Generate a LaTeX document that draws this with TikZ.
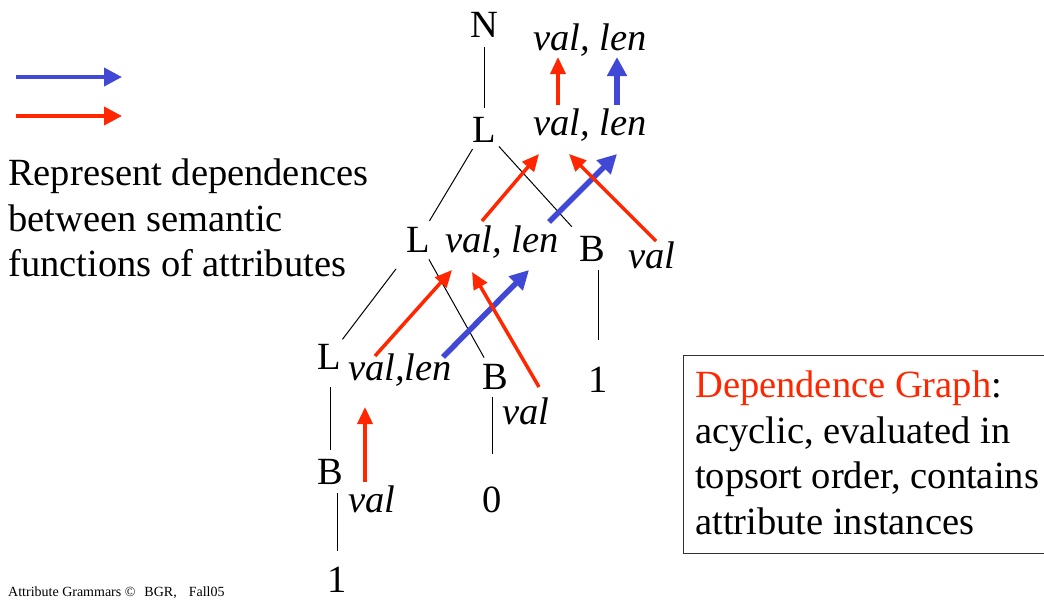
\documentclass[tikz,border=0pt]{standalone}
\usepackage{fontspec}
\setmainfont{Liberation Serif}
\usetikzlibrary{positioning, arrows.meta, calc}
\definecolor{depred}{RGB}{255,38,0}
\definecolor{depblue}{RGB}{66,72,214}
\newcommand{\bigtext}{\fontsize{38.5}{45.5}\selectfont}

\begin{document}
\begin{tikzpicture}[x=1pt, y=-1pt]
\tikzset{
    every node/.style={inner sep=0pt},
    sym/.style={circle, minimum size=44pt, font=\bigtext},
    attr/.style={anchor=base west, font=\bigtext\itshape},
    edge/.style={draw, line width=1pt},
    redarr/.style={draw=depred, line width=3.5pt, -{Triangle[length=17pt, width=15pt]}},
    bluearr/.style={draw=depblue, line width=5.5pt, -{Triangle[length=19pt, width=19pt]}},
    keyarr/.style={line width=4pt, -{Triangle[length=18pt, width=18pt]}},
    note/.style={anchor=north west, align=left, font=\bigtext}
}
\useasboundingbox (0,0) rectangle (1044,600);

% legend
\coordinate (kb0) at (16,77);  \coordinate (kb1) at (122,77);
\coordinate (kr0) at (16,116); \coordinate (kr1) at (122,116);
\draw[keyarr, depblue] (kb0) -- (kb1);
\draw[keyarr, depred] (kr0) -- (kr1);
\node[note] (expl) at (8,159) {Represent dependences\\between semantic\\functions of attributes};

% parse tree
\node[sym] (N) at (484,25) {N};
\node[sym] (L1) at (484,130) {L};
\node[sym] (L2) at (418,240) {L};
\node[sym] (B2) at (592,249) {B};
\node[sym] (L3) at (329,357) {L};
\node[sym] (B3) at (495,377) {B};
\node[sym] (one1) at (598,380) {1};
\node[sym] (B4) at (330,472) {B};
\node[sym] (zero) at (492,500) {0};
\node[sym] (one2) at (337,580) {1};

\draw[edge] (N) -- (L1);
\draw[edge] (L1) -- (L2);
\draw[edge, shorten >=8pt] (L1) -- (B2);
\draw[edge, shorten <=14pt] (L2) -- (L3);
\draw[edge] (L2) -- (B3);
\draw[edge, shorten <=21pt, shorten >=18pt] (one1 |- B2) -- (one1);
\draw[edge, shorten <=30pt] (B4 |- L3) -- (B4);
\draw[edge, shorten <=20pt, shorten >=24pt] (zero |- B3) -- (zero);
\draw[edge, shorten <=21pt, shorten >=7pt] (one2 |- B4) -- (one2);

% attributes
\node[attr] (atN) at (533,50) {val, len};
\node[attr] (atL1) at (533,135) {val, len};
\node[attr] (atL2) at (445,252) {val, len};
\node[attr] (atB2) at (628,268) {val};
\node[attr] (atL3) at (348,380) {val,len};
\node[attr] (atB3) at (502,424) {val};
\node[attr] (atB4) at (348,512) {val};

% dependences
\coordinate (d1a) at (558,105); \coordinate (d1b) at (558,57);
\coordinate (d2a) at (617,105); \coordinate (d2b) at (617,57);
\coordinate (d3a) at (482,221); \coordinate (d3b) at (539,154);
\coordinate (d4a) at (549,222); \coordinate (d4b) at (617,154);
\coordinate (d5a) at (656,241); \coordinate (d5b) at (569,154);
\coordinate (d6a) at (375,356); \coordinate (d6b) at (452,270);
\coordinate (d7a) at (443,357); \coordinate (d7b) at (529,270);
\coordinate (d8a) at (539,387); \coordinate (d8b) at (472,272);
\coordinate (d9a) at (365,482); \coordinate (d9b) at (365,407);
\draw[redarr] (d1a) -- (d1b);
\draw[bluearr] (d2a) -- (d2b);
\draw[redarr] (d3a) -- (d3b);
\draw[bluearr] (d4a) -- (d4b);
\draw[redarr] (d5a) -- (d5b);
\draw[redarr] (d6a) -- (d6b);
\draw[bluearr] (d7a) -- (d7b);
\draw[redarr] (d8a) -- (d8b);
\draw[redarr] (d9a) -- (d9b);

% dependence graph note
\node[draw=black!80, line width=1.2pt, anchor=north west, minimum width=365pt, minimum height=198pt] (dgbox) at (683,355) {};
\node[note] (dgtext) at (695,371) {\textcolor{depred}{Dependence Graph}:\\acyclic, evaluated in\\topsort order, contains\\attribute instances};

\node[anchor=base west, font=\fontsize{14}{16}\selectfont] (footer) at (8,596) {Attribute Grammars ©\hspace{9pt}BGR,\hspace{12pt}Fall05};
\end{tikzpicture}
\end{document}
